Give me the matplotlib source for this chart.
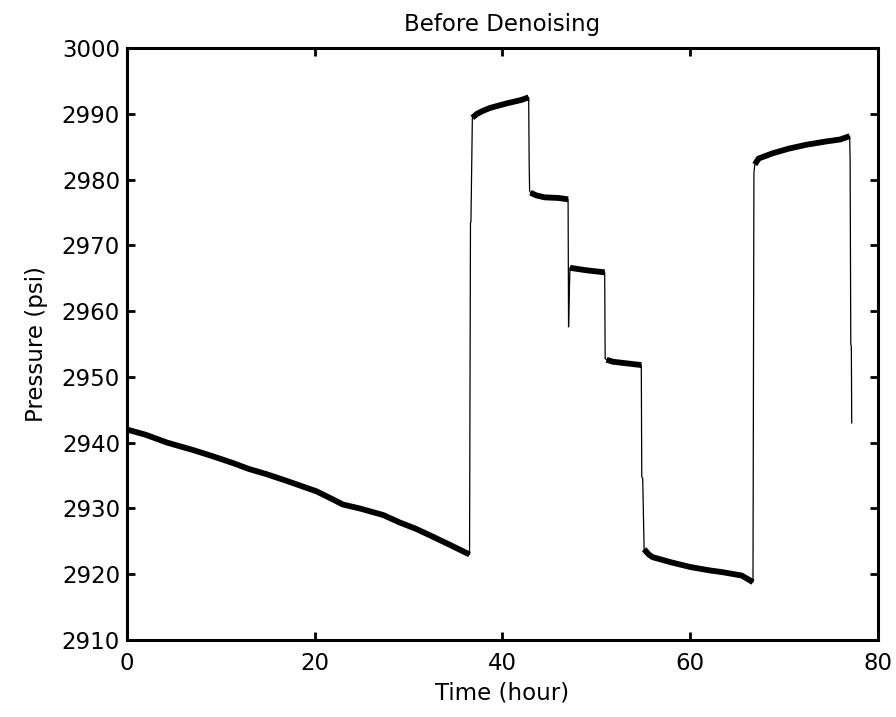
import matplotlib
matplotlib.use("Agg")
import matplotlib.pyplot as plt
import numpy as np

plt.rcParams['font.family'] = ['DejaVu Sans']

# plateau segments (time in hours, pressure in psi)
seg1_t = [0.0, 2.0, 4.3, 7.0, 9.0, 11.3, 13.0, 14.9, 17.0, 18.4, 20.2, 21.9, 23.0, 24.8, 27.3, 29.0, 30.8, 32.6, 34.5, 36.5]
seg1_p = [2942.0, 2941.2, 2940.0, 2938.9, 2938.0, 2936.9, 2936.0, 2935.2, 2934.2, 2933.5, 2932.6, 2931.4, 2930.6, 2930.0, 2929.0, 2927.9, 2926.9, 2925.7, 2924.4, 2923.0]

seg2_t = [36.8, 37.3, 38.0, 38.7, 40.5, 42.0, 42.8]
seg2_p = [2989.4, 2990.0, 2990.5, 2990.9, 2991.6, 2992.1, 2992.5]

seg3_t = [43.0, 43.6, 44.5, 46.0, 47.0]
seg3_p = [2978.0, 2977.6, 2977.3, 2977.2, 2977.0]

seg4_t = [47.2, 47.6, 49.0, 50.9]
seg4_p = [2966.6, 2966.5, 2966.2, 2965.9]

seg5_t = [51.1, 51.8, 53.0, 54.8]
seg5_p = [2952.6, 2952.3, 2952.1, 2951.8]

seg6_t = [55.1, 55.6, 56.0, 58.0, 60.0, 62.0, 63.5, 65.5, 66.7]
seg6_p = [2923.8, 2923.0, 2922.6, 2921.8, 2921.1, 2920.6, 2920.3, 2919.8, 2918.8]

seg7_t = [66.9, 67.3, 68.8, 70.5, 72.4, 74.5, 76.0, 77.0]
seg7_p = [2982.3, 2983.2, 2984.0, 2984.7, 2985.3, 2985.8, 2986.1, 2986.6]

# vertical transitions between plateaus (thin line)
jump_t = [36.5, 36.6, 36.65, 36.8, 42.8, 42.85, 42.9, 47.0, 47.05, 47.15, 47.2,
          50.9, 50.95, 51.1, 54.8, 54.85, 54.95, 55.1, 66.7, 66.8, 66.9,
          77.0, 77.05, 77.12, 77.18, 77.22]
jump_p = [2923.0, 2973.4, 2973.6, 2989.4, 2992.5, 2983.0, 2978.3, 2977.0, 2957.6, 2964.0, 2966.6,
          2965.9, 2952.8, 2952.6, 2951.8, 2934.8, 2934.6, 2923.8, 2918.8, 2981.0, 2982.3,
          2986.6, 2983.0, 2955.0, 2954.6, 2943.0]

segments = [(seg1_t, seg1_p), (seg2_t, seg2_p), (seg3_t, seg3_p), (seg4_t, seg4_p),
            (seg5_t, seg5_p), (seg6_t, seg6_p), (seg7_t, seg7_p)]

fig = plt.figure(figsize=(8.96, 7.17), dpi=100)
ax = fig.add_axes([0.1417, 0.1074, 0.838, 0.8256])

# one time-ordered trace for the thin line
all_t = np.concatenate([np.array(s[0]) for s in segments] + [np.array(jump_t)])
all_p = np.concatenate([np.array(s[1]) for s in segments] + [np.array(jump_p)])
order = np.argsort(all_t, kind='stable')
ax.plot(all_t[order], all_p[order], color='black', lw=0.9)

# noisy plateaus look thick
for t, p in segments:
    ax.plot(t, p, color='black', lw=4.2, solid_capstyle='butt')

ax.set_xlim(0, 80)
ax.set_ylim(2910, 3000)
ax.set_xticks([0, 20, 40, 60, 80])
ax.set_yticks(np.arange(2910, 3001, 10))

for s in ax.spines.values():
    s.set_linewidth(2.2)
ax.tick_params(direction='in', length=6, width=2, labelsize=16.5,
               top=True, right=True)
ax.tick_params(axis='y', pad=5)
ax.tick_params(axis='x', pad=9)

ax.set_title("Before Denoising", fontsize=16.5, pad=12)
ax.set_xlabel("Time (hour)", fontsize=16.5, labelpad=4)
ax.set_ylabel("Pressure (psi)", fontsize=16.5, labelpad=10)

fig.savefig("out.png", dpi=100)
